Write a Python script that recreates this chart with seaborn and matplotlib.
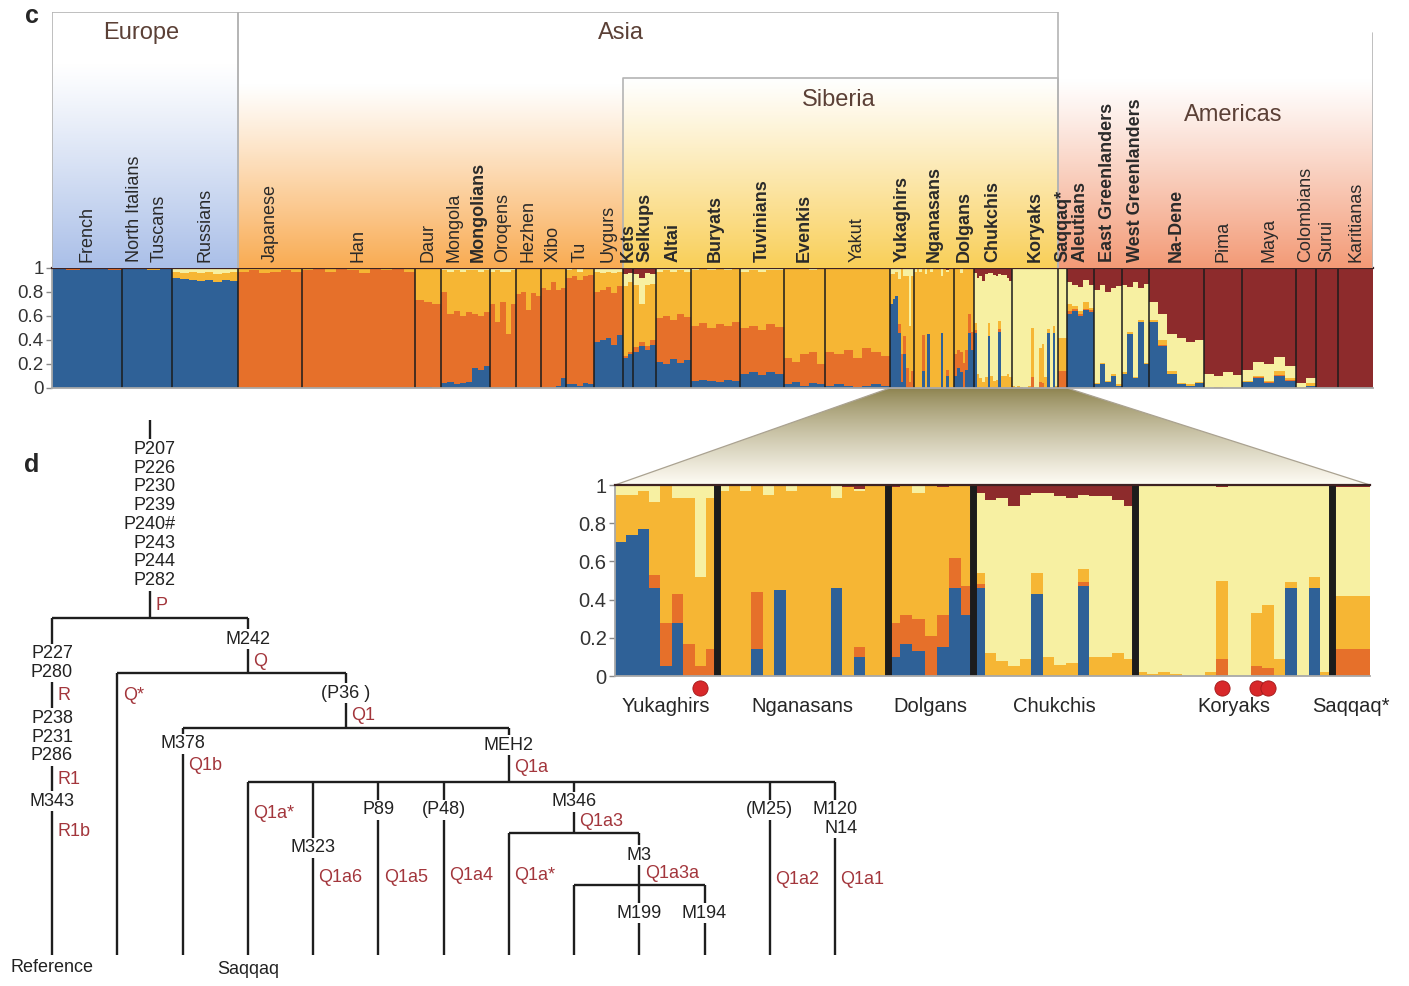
import numpy as np
import pandas as pd
import seaborn as sns
import matplotlib.pyplot as plt
from matplotlib.patches import Polygon

# ---- panel c data -------------------------------------------------------
populations = ["French", "North Italians", "Tuscans", "Russians", "Japanese", "Han", "Daur",
               "Mongola", "Mongolians", "Oroqens", "Hezhen", "Xibo", "Tu", "Uygurs", "Kets",
               "Selkups", "Altai", "Buryats", "Tuvinians", "Evenkis", "Yakut", "Yukaghirs",
               "Nganasans", "Dolgans", "Chukchis", "Koryaks", "Saqqaq*", "Aleutians",
               "East Greenlanders", "West Greenlanders", "Na-Dene", "Pima", "Maya",
               "Colombians", "Surui", "Karitianas"]
# relative width of each block (individuals)
pop_width = [70, 25, 25, 66, 64, 113, 26, 25, 24, 26, 25, 25, 28, 29, 10, 23, 35, 49, 44, 41, 65,
             24, 40, 20, 38, 46, 9, 27, 28, 27, 55, 38, 54, 20, 22, 35]
bold_pops = ["Mongolians", "Kets", "Selkups", "Altai", "Buryats", "Tuvinians", "Evenkis",
             "Yukaghirs", "Nganasans", "Dolgans", "Chukchis", "Koryaks", "Saqqaq*", "Aleutians",
             "East Greenlanders", "West Greenlanders", "Na-Dene"]
joined = ["Tuscans", "Mongolians"]  # share a block with the previous population

# ancestry per bar, cumulative tops of the components (blue, orange, gold, pale); red fills to 1
ancestry_tops = [
    [(.99, .99, .99, .99), (.985, .99, .99, .99), (.99, .995, .995, .995), (.99, .99, .99, .99), (.985, .99, .995, .995)],
    [(.99, .99, .995, .995), (.99, .99, .99, .99)],
    [(.98, .98, .99, .995), (.99, .99, .995, .995)],
    [(.92, .92, .97, 1), (.91, .91, .96, 1), (.90, .90, .97, 1), (.89, .89, .96, 1), (.90, .90, .97, 1),
     (.88, .88, .95, 1), (.90, .90, .96, 1), (.89, .89, .97, 1)],
    [(0, .97, .995, 1), (0, .98, 1, 1), (0, .96, .99, 1), (0, .97, .995, 1), (0, .98, 1, 1), (0, .97, .995, 1)],
    [(0, .98, 1, 1), (0, .99, 1, 1), (0, .97, 1, 1), (0, .99, 1, 1), (0, .98, 1, 1), (0, .96, 1, 1),
     (0, .99, 1, 1), (0, .98, 1, 1), (0, .99, 1, 1), (0, .97, 1, 1)],
    [(.01, .73, 1, 1), (.01, .72, 1, 1), (0, .70, 1, 1)],
    [(.04, .80, .98, 1), (.05, .62, .97, 1), (.03, .64, .98, 1), (.04, .60, .97, 1)],
    [(.05, .63, .98, 1), (.17, .62, .98, 1), (.15, .60, .97, 1), (.18, .63, .98, 1)],
    [(0, .70, .97, 1), (0, .55, .98, 1), (0, .72, .97, 1), (0, .45, .97, 1), (0, .70, .98, 1)],
    [(0, .78, .99, 1), (0, .80, .99, 1), (0, .65, .99, 1), (0, .79, .99, 1), (0, .77, .99, 1)],
    [(0, .83, .99, 1), (0, .82, .99, 1), (0, .88, .99, 1), (.02, .82, .99, 1), (.08, .83, .99, 1)],
    [(.03, .92, .98, 1), (.03, .93, .99, 1), (.02, .90, .97, 1), (.04, .93, .99, 1), (.03, .94, .99, 1)],
    [(.38, .80, .97, .99), (.40, .82, .96, .99), (.42, .84, .97, .99), (.36, .79, .96, .99), (.44, .85, .97, .99)],
    [(.25, .27, .85, .95), (.28, .30, .88, .96)],
    [(.30, .34, .86, .95), (.35, .38, .70, .92), (.32, .35, .86, .96), (.36, .40, .87, .95)],
    [(.22, .58, .97, .99), (.20, .60, .98, 1), (.24, .57, .97, .99), (.21, .62, .98, 1), (.23, .59, .97, 1)],
    [(.06, .52, .98, 1), (.07, .54, .99, 1), (.06, .50, .98, 1), (.05, .53, .99, 1), (.07, .52, .98, 1), (.06, .55, .99, 1)],
    [(.12, .50, .97, .99), (.13, .52, .98, 1), (.11, .48, .97, .99), (.13, .53, .98, 1), (.12, .51, .98, 1)],
    [(.03, .25, .99, 1), (.05, .22, .99, 1), (.02, .28, .99, 1), (.04, .30, .98, 1), (.03, .20, .99, 1)],
    [(.02, .30, .99, 1), (.03, .28, .99, 1), (.02, .32, .99, 1), (.01, .25, .99, 1), (.02, .33, .99, 1),
     (.03, .30, .99, 1), (.02, .27, .99, 1)],
    # Yukaghirs
    [(.70, .70, .95, 1), (.74, .74, .95, 1), (.77, .77, .97, 1), (.46, .53, .91, 1), (.05, .28, 1, 1),
     (.28, .43, .93, 1), (0, .17, .93, 1), (0, .05, .52, 1), (0, .14, .93, 1)],
    # Nganasans
    [(0, 0, .97, 1), (0, 0, 1, 1), (0, 0, .97, 1), (.14, .44, 1, 1), (0, 0, .95, 1), (.45, .45, 1, 1),
     (0, 0, .97, 1), (0, 0, 1, 1), (0, 0, 1, 1), (0, 0, 1, 1), (.46, .46, .93, 1), (0, 0, .99, .99),
     (.10, .15, .97, .98), (0, 0, 1, 1), (0, 0, 1, 1)],
    # Dolgans
    [(.10, .28, .99, .99), (.17, .32, 1, 1), (.13, .30, .96, 1), (0, .21, 1, 1), (.15, .32, .99, .99),
     (.46, .62, 1, 1), (.32, .47, 1, 1)],
    # Chukchis
    [(.46, .48, .54, .96), (0, 0, .12, .92), (0, 0, .08, .93), (0, 0, .05, .89), (0, 0, .09, .95),
     (.43, .43, .54, .96), (0, 0, .10, .96), (0, 0, .06, .94), (0, 0, .07, .93), (.47, .49, .56, .95),
     (0, 0, .10, .94), (0, 0, .10, .94), (0, 0, .12, .92), (0, 0, .09, .89)],
    # Koryaks
    [(0, 0, .02, 1), (0, 0, .01, 1), (0, 0, .02, 1), (0, 0, .01, 1), (0, 0, 0, 1), (0, 0, 0, 1),
     (0, 0, .02, 1), (0, .09, .50, .99), (0, 0, 0, 1), (0, 0, 0, 1), (0, .05, .33, 1), (0, .04, .37, 1),
     (0, 0, .09, 1), (.46, .46, .49, 1), (0, 0, 0, 1), (.46, .46, .52, 1), (0, 0, .02, 1)],
    [(0, .14, .42, .99)],
    [(.62, .64, .70, .88), (.64, .66, .68, .86), (.60, .62, .64, .84), (.65, .66, .72, .90), (.63, .65, .67, .86)],
    [(.03, .03, .04, .82), (.20, .20, .21, .86), (.05, .05, .06, .80), (.10, .10, .12, .83), (.02, .02, .03, .85)],
    [(.12, .12, .13, .86), (.45, .45, .47, .84), (.08, .08, .09, .88), (.55, .55, .57, .83), (.20, .20, .21, .87)],
    [(.55, .55, .57, .72), (.35, .36, .40, .62), (.12, .12, .14, .45), (.03, .03, .04, .42), (.02, .02, .03, .38),
     (.04, .04, .05, .40)],
    [(0, 0, 0, .12), (0, 0, .01, .10), (0, 0, 0, .13), (0, 0, 0, .11)],
    [(.05, .05, .06, .15), (.08, .09, .10, .22), (.04, .05, .06, .20), (.10, .11, .14, .26), (.06, .07, .08, .18)],
    [(0, 0, .01, .04), (.02, .02, .04, .08)],
    [(0, 0, 0, 0)],
    [(0, 0, 0, 0)],
]

components = ["K1", "K2", "K3", "K4", "K5"]
pal = {"K1": "#2f6197", "K2": "#e6702a", "K3": "#f6b634", "K4": "#f7f0a2", "K5": "#8d2b2c"}

regions = ["Europe", "Asia", "Siberia", "Americas"]
region_first = ["French", "Japanese", "Kets", "Saqqaq*"]
region_last = ["Russians", "Koryaks", "Koryaks", "Karitianas"]
region_top = [1.0, 1.0, 0.742, 0.918]
region_label_y = [0.918, 0.918, 0.656, 0.598]
region_label_dx = [-4, -27, -2, 18]
region_color = ["#aabfe8", "#f9ab52", "#f9cf58", "#f39a76"]
region_fade = [0.8, 0.72, 1.0, 0.8]

inset_pops = ["Yukaghirs", "Nganasans", "Dolgans", "Chukchis", "Koryaks", "Saqqaq*"]
flagged_pop = ["Yukaghirs", "Koryaks", "Koryaks", "Koryaks"]
flagged_idx = [7, 7, 10, 11]

# ---- panel d: Y-chromosome tree ------------------------------------------
# node, parent, leaf slot, y of the split (None for tips)
tree_nodes = [
    ("P", None, 1.5, 618), ("R1b", "P", 0, None), ("Q", "P", 3, 673), ("Q*", "Q", 1, None),
    ("Q1", "Q", 4.5, 728), ("Q1b", "Q1", 2, None), ("Q1a", "Q1", 7, 782),
    ("Saqqaq", "Q1a", 3, None), ("Q1a6", "Q1a", 4, None), ("Q1a5", "Q1a", 5, None),
    ("Q1a4", "Q1a", 6, None), ("Q1a3", "Q1a", 8, 833), ("Q1a*", "Q1a3", 7, None),
    ("Q1a3a", "Q1a3", 9, 885), ("tip8", "Q1a3a", 8, None), ("M199", "Q1a3a", 9, None),
    ("M194", "Q1a3a", 10, None), ("Q1a2", "Q1a", 11, None), ("Q1a1", "Q1a", 12, None),
]
markers = [("P207\nP226\nP230\nP239\nP240#\nP243\nP244\nP282", 1.5, 515),
           ("P227\nP280", 0, 663), ("P238\nP231\nP286", 0, 737), ("M343", 0, 801),
           ("M242", 3, 639), ("(P36 )", 4.5, 693), ("M378", 2, 744), ("MEH2", 7, 745),
           ("M323", 4, 848), ("P89", 5, 810), ("(P48)", 6, 810), ("M346", 8, 802),
           ("M3", 9, 855), ("M199", 9, 913), ("M194", 10, 913), ("(M25)", 11, 810),
           ("M120\nN14", 12, 819)]
haplogroups = [("P", 1.5, 605), ("R", 0, 695), ("R1", 0, 779), ("R1b", 0, 832), ("Q", 3, 661),
               ("Q*", 1, 695), ("Q1", 4.5, 716), ("Q1b", 2, 766), ("Q1a", 7, 767),
               ("Q1a*", 3, 813), ("Q1a6", 4, 878), ("Q1a5", 5, 878), ("Q1a4", 6, 875),
               ("Q1a3", 8, 822), ("Q1a*", 7, 875), ("Q1a3a", 9, 873), ("Q1a2", 11, 880),
               ("Q1a1", 12, 880)]
tip_names = [("Reference", 0, 968), ("Saqqaq", 3, 970)]

# ---- build the long table --------------------------------------------------
rows, edges, starts = [], [0.0], {}
pos = 0.0
for pop, w, bars in zip(populations, pop_width, ancestry_tops):
    starts[pop] = pos
    step = w / len(bars)
    for j, (b, o, g, p) in enumerate(bars):
        lo = pos + j * step
        edges.append(lo + step)
        for comp, f in zip(components, (b, o - b, g - o, p - g, 1 - p)):
            rows.append((pop, j, lo + step / 2, comp, max(f, 0)))
    pos += w
total = pos
df = pd.DataFrame(rows, columns=["population", "bar", "x", "component", "frac"])
centers = dict(zip(populations, [starts[p] + w / 2 for p, w in zip(populations, pop_width)]))

sns.set_theme(style="white")
plt.rcParams['font.family'] = ['Liberation Sans', 'DejaVu Sans']

W, H = 1409, 986
fig = plt.figure(figsize=(W / 100, H / 100), dpi=100)


def px_axes(x0, y0, x1, y1, **kw):
    return fig.add_axes([x0 / W, 1 - y1 / H, (x1 - x0) / W, (y1 - y0) / H], **kw)


ax_fig = px_axes(0, 0, W, H)
ax_fig.set_axis_off()

stack_order = components[::-1]  # seaborn puts the first hue level on top

ax_c = px_axes(52, 268, 1373, 388)
sns.histplot(df, x="x", weights="frac", hue="component", hue_order=stack_order, palette=pal,
             multiple="stack", bins=list(edges), linewidth=0, alpha=1, legend=False, ax=ax_c)
ax_c.set_xlim(0, total)
ax_c.set_ylim(0, 1)
for pop in populations[1:]:
    if pop not in joined:
        ax_c.axvline(starts[pop], color="#1c1c1c", lw=1.1)

yt = [0, 0.2, 0.4, 0.6, 0.8, 1]
ytl = ["0", "0.2", "0.4", "0.6", "0.8", "1"]


def style_bars(ax, size):
    ax.set_xlabel("")
    ax.set_ylabel("")
    ax.set_xticks([])
    ax.set_yticks(yt)
    ax.set_yticklabels(ytl)
    ax.tick_params(axis="y", left=True, length=4, width=1, color="#888888", labelsize=size,
                   labelcolor="#333333", pad=2)
    ax.spines["right"].set_visible(False)
    ax.spines["top"].set_color("#3d2222")
    ax.spines["top"].set_linewidth(1.6)
    for s in ("left", "bottom"):
        ax.spines[s].set_color("#a8a8a8")
        ax.spines[s].set_linewidth(1.3)


style_bars(ax_c, 13.5)

# labels and shaded regions above the bars
ax_lab = px_axes(52, 12, 1373, 268)
ax_lab.set_xlim(0, total)
ax_lab.set_ylim(0, 1)
ax_lab.set_axis_off()
for name, first, last, top, ly, dx, col, fade in zip(regions, region_first, region_last,
                                                     region_top, region_label_y, region_label_dx,
                                                     region_color, region_fade):
    x0 = starts[first]
    x1 = starts[last] + pop_width[populations.index(last)]
    yy = np.linspace(0, top, 256)
    t = np.clip(1 - yy / (fade * top), 0, 1) ** 1.1
    c = np.array(plt.matplotlib.colors.to_rgb(col))
    img = 1 - t[:, None] * (1 - c[None, :])
    ax_lab.imshow(img[:, None, :], extent=(x0, x1, 0, top), origin="lower", aspect="auto",
                  interpolation="bilinear")
    if name == "Americas":
        ax_lab.plot([x1, x1], [0, top], color="#b4b4b4", lw=1.2)
    else:
        ax_lab.plot([x0, x0, x1, x1], [0, top, top, 0], color="#b4b4b4", lw=1.2)
    ax_lab.text((x0 + x1) / 2 + dx, ly, name, ha="center", va="center", fontsize=17,
                color="#5b4036")
ax_lab.set_xlim(0, total)
ax_lab.set_ylim(0, 1)
for pop in populations:
    ax_lab.text(centers[pop], 0.023, pop, rotation=90, ha="center", va="bottom", fontsize=13,
                color="#2a2a2a", fontweight="bold" if pop in bold_pops else "normal")

fig.text(32 / W, 1 - 16 / H, "c", fontsize=18, fontweight="bold", ha="center", va="center")
fig.text(32 / W, 1 - 465 / H, "d", fontsize=18, fontweight="bold", ha="center", va="center")

# ---- zoomed inset -----------------------------------------------------------
xin0 = starts[inset_pops[0]]
xin1 = starts[inset_pops[-1]] + pop_width[populations.index(inset_pops[-1])]
ax_in = px_axes(615, 485, 1370, 676)
sub = df[df["population"].isin(inset_pops)]
in_edges = [e for e in edges if xin0 - 1e-9 <= e <= xin1 + 1e-9]
sns.histplot(sub, x="x", weights="frac", hue="component", hue_order=stack_order, palette=pal,
             multiple="stack", bins=in_edges, linewidth=0, alpha=1, legend=False, ax=ax_in)
ax_in.set_xlim(xin0, xin1)
ax_in.set_ylim(0, 1)
for pop in inset_pops[1:]:
    ax_in.axvline(starts[pop], color="#1c1c1c", lw=5)
style_bars(ax_in, 14.5)
for pop in inset_pops:
    ax_in.text(centers[pop], -0.162, pop, ha="center", va="center", fontsize=14.5,
               color="#262626", clip_on=False)
dot_x = [sub[(sub["population"] == p) & (sub["bar"] == i)]["x"].iloc[0]
         for p, i in zip(flagged_pop, flagged_idx)]
sns.scatterplot(x=dot_x, y=[-0.063] * len(dot_x), color="#d8282a", s=120, edgecolor="#a01818",
                linewidth=0.6, clip_on=False, ax=ax_in, zorder=5)

# trapezoid linking the main plot to the inset
ax_fig.set_xlim(0, W)
ax_fig.set_ylim(H, 0)
to_fig = ax_fig.transData.inverted()
pts = [to_fig.transform(ax_c.transData.transform((xin0, 0))),
       to_fig.transform(ax_c.transData.transform((xin1, 0))),
       to_fig.transform(ax_in.transAxes.transform((1, 1))),
       to_fig.transform(ax_in.transAxes.transform((0, 1)))]
pts = np.array(pts)
poly = Polygon(pts, closed=True, facecolor="none", edgecolor="#aaa291", lw=0.9, zorder=2)
ax_fig.add_patch(poly)
g = np.linspace(0, 1, 200) ** 0.8
top_c = np.array([0.54, 0.50, 0.29])
bot_c = np.array([1.0, 0.99, 0.96])
grad = top_c[None, :] * (1 - g[:, None]) + bot_c[None, :] * g[:, None]
im = ax_fig.imshow(grad[:, None, :], extent=(pts[:, 0].min(), pts[:, 0].max(),
                                             pts[:, 1].max(), pts[:, 1].min()),
                   origin="upper", aspect="auto", zorder=1)
im.set_clip_path(poly)
ax_fig.set_xlim(0, W)
ax_fig.set_ylim(H, 0)

# ---- panel d -----------------------------------------------------------------
ax_d = px_axes(52, 400, 835, 986)
ax_d.set_xlim(0, 12)
ax_d.set_ylim(986, 400)
ax_d.set_axis_off()
tree_top, tip_y = 420, 955
split_of = {n: s for n, _, _, s in tree_nodes}
line_kw = dict(color="#1e1e1e", lw=1.7, solid_capstyle="butt", zorder=1, clip_on=False)
for name, parent, slot, split in tree_nodes:
    top = tree_top if parent is None else split_of[parent]
    ax_d.plot([slot, slot], [top, split if split is not None else tip_y], **line_kw)
    if split is not None:
        kids = [x for _, par, x, _ in tree_nodes if par == name]
        ax_d.plot([min(kids), max(kids)], [split, split], **line_kw)
for txt, slot, y in markers:
    ax_d.text(slot, y, txt, ha="center", va="center", fontsize=13, color="#222222",
              linespacing=1.13, multialignment="right", zorder=3,
              bbox=dict(fc="white", ec="none", pad=1.2))
for txt, slot, y in haplogroups:
    ax_d.annotate(txt, (slot, y), xytext=(4, 0), textcoords="offset points", ha="left",
                  va="center", fontsize=13, color="#a3363c", zorder=3)
for txt, slot, y in tip_names:
    ax_d.text(slot, y, txt, ha="center", va="center", fontsize=13, color="#222222")

fig.savefig("out.png", dpi=100, facecolor="white")
